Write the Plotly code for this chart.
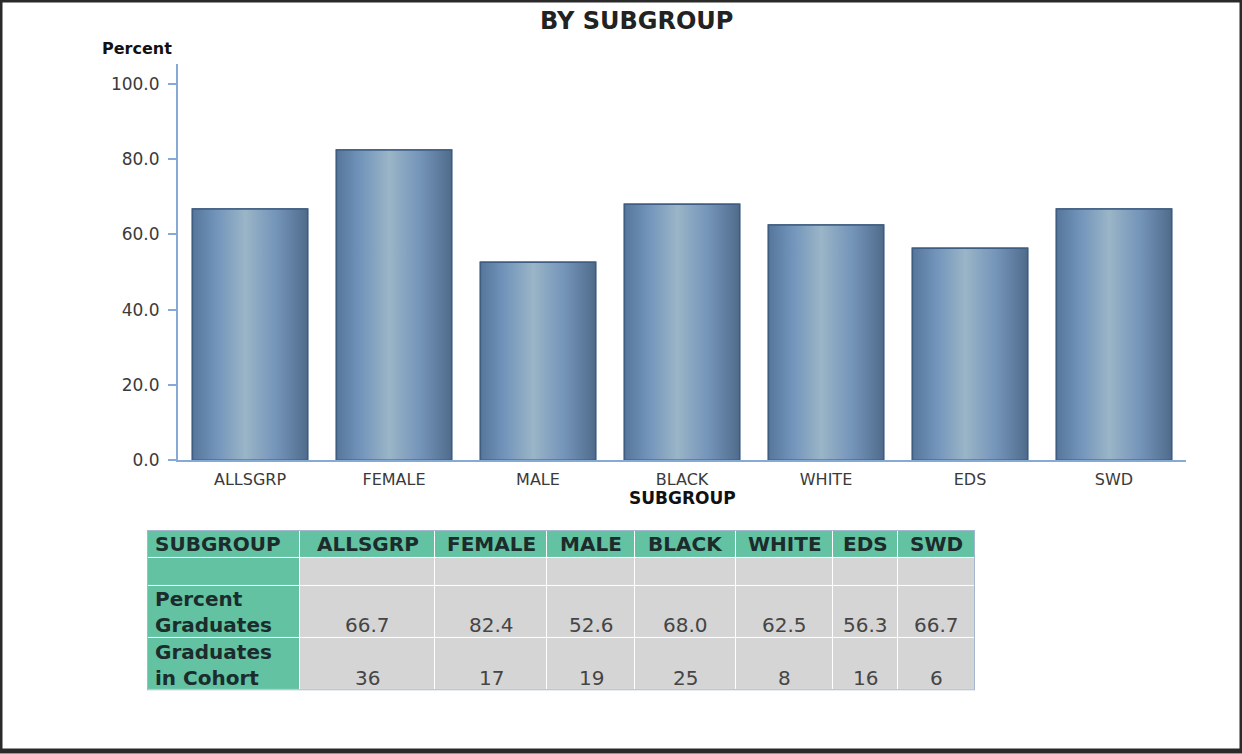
import plotly.graph_objects as go

# ---- data ----
categories = ["ALLSGRP", "FEMALE", "MALE", "BLACK", "WHITE", "EDS", "SWD"]
percent_graduates = [66.7, 82.4, 52.6, 68.0, 62.5, 56.3, 66.7]
graduates_in_cohort = [36, 17, 19, 25, 8, 16, 6]
table_header_label = "SUBGROUP"
row_labels = ["", "Percent<br>Graduates", "Graduates<br>in Cohort"]
y_ticks = [0, 20, 40, 60, 80, 100]

# ---- layout helpers (reference pixel -> paper fraction) ----
W, H = 1242, 761
REF_H = 754
def px(x):
    return x / W
def py(y):
    return 1 - y / REF_H

BAR_W = 0.8
grad = [[0.0, "#56769a"], [0.2, "#7193ba"], [0.46, "#9ab5c7"], [0.72, "#7595ba"], [1.0, "#506c8c"]]
edge = "#3f5d83"
axis_col = "#86a9d6"

fig = go.Figure()
xs = list(range(len(categories)))
fig.add_trace(go.Bar(x=xs, y=percent_graduates, width=BAR_W,
                     marker=dict(color="#7f9fbf", line=dict(color=edge, width=1.5)),
                     showlegend=False, hoverinfo="skip"))
for i, v in zip(xs, percent_graduates):
    x0, x1 = i - BAR_W / 2, i + BAR_W / 2
    fig.add_trace(go.Scatter(x=[x0, x0, x1, x1, x0], y=[0, v, v, 0, 0], mode="lines", fill="toself",
                             fillgradient=dict(type="horizontal", colorscale=grad),
                             line=dict(color=edge, width=1.5), showlegend=False,
                             hovertemplate=f"{categories[i]}: {v:.1f}<extra></extra>"))

# ---- table geometry (style) ----
col_widths = [153, 135, 112, 88, 101, 97, 65, 77]
row_heights = [28, 28, 52, 53]
col_edges = [0]
for w in col_widths:
    col_edges.append(col_edges[-1] + w)
row_edges = [0]
for h in row_heights:
    row_edges.append(row_edges[-1] + h)
TW, TH = col_edges[-1], row_edges[-1]

green = "#62c2a2"
gray = "#d5d5d5"
n_cols = len(col_widths)
n_rows = len(row_heights)
zfill = [[1 if (r == 0 or c == 0) else 0 for c in range(n_cols)] for r in range(n_rows)]

fig.add_trace(go.Heatmap(x=col_edges, y=row_edges, z=zfill, xaxis="x2", yaxis="y2",
                         colorscale=[[0, gray], [0.5, gray], [0.5, green], [1, green]],
                         zmin=0, zmax=1, showscale=False, xgap=1, ygap=1, hoverinfo="skip"))

fig.update_layout(
    width=W, height=H, autosize=False,
    margin=dict(l=0, r=0, t=0, b=0),
    paper_bgcolor="white", plot_bgcolor="white",
    font=dict(family="DejaVu Sans", color="#333333"),
    xaxis=dict(domain=[px(178), px(1186)], range=[-0.5, len(categories) - 0.5],
               tickvals=xs, ticktext=categories, showgrid=False, zeroline=False,
               showline=True, linecolor=axis_col, linewidth=2, ticks="", ticklabelstandoff=4,
               tickfont=dict(size=16, color="#3a3a3a"), fixedrange=True),
    yaxis=dict(domain=[py(462), py(64)], range=[0, 105.3], tickvals=y_ticks, tickformat=".1f",
               showgrid=False, zeroline=False, showline=True, linecolor=axis_col, linewidth=2,
               ticks="outside", ticklen=8, tickcolor=axis_col, tickwidth=2, ticklabelstandoff=5,
               tickfont=dict(size=17, color="#3a3a3a"), fixedrange=True),
    xaxis2=dict(domain=[px(147), px(975)], range=[0, TW], anchor="y2", visible=False, fixedrange=True),
    yaxis2=dict(domain=[py(693), py(532)], range=[TH, 0], anchor="x2", visible=False, fixedrange=True),
    showlegend=False,
)

# table outer border
fig.add_shape(type="rect", xref="x2", yref="y2", x0=0, x1=TW, y0=0, y1=TH,
              line=dict(color="#a4b7cf", width=2))

hdr_font = dict(family="DejaVu Sans", size=20, color="#1c2b2b")
val_font = dict(family="DejaVu Sans", size=20, color="#454545")
# header row
header_texts = [table_header_label] + categories
for c, t in enumerate(header_texts):
    yc = (row_edges[0] + row_edges[1]) / 2
    if c == 0:
        fig.add_annotation(text=f"<b>{t}</b>", xref="x2", yref="y2", x=col_edges[0] + 6, y=yc,
                           xanchor="left", yanchor="middle", showarrow=False, font=hdr_font)
    else:
        fig.add_annotation(text=f"<b>{t}</b>", xref="x2", yref="y2", x=(col_edges[c] + col_edges[c + 1]) / 2,
                           y=yc, xanchor="center", yanchor="middle", showarrow=False, font=hdr_font)
# row labels
for r, lab in enumerate(row_labels, start=1):
    if lab:
        fig.add_annotation(text=f"<b>{lab}</b>", xref="x2", yref="y2", x=col_edges[0] + 6,
                           y=row_edges[r + 1], yshift=-2, xanchor="left", yanchor="bottom", showarrow=False,
                           font=hdr_font, align="left")
# values (sit on the last line of each row)
for r, vals in ((2, [f"{p:.1f}" for p in percent_graduates]), (3, [str(g) for g in graduates_in_cohort])):
    for c, t in enumerate(vals, start=1):
        fig.add_annotation(text=t, xref="x2", yref="y2", x=(col_edges[c] + col_edges[c + 1]) / 2,
                           y=row_edges[r + 1], yshift=-2, xanchor="center", yanchor="bottom", showarrow=False,
                           font=val_font)

# titles
fig.add_annotation(text="<b>BY SUBGROUP</b>", xref="paper", yref="paper", x=px(637), y=py(21),
                   showarrow=False, font=dict(size=24, color="#222222"), xanchor="center", yanchor="middle")
fig.add_annotation(text="<b>Percent</b>", xref="paper", yref="paper", x=px(100), y=py(49),
                   showarrow=False, font=dict(size=16, color="#111111"), xanchor="left", yanchor="middle")
fig.add_annotation(text="<b>SUBGROUP</b>", xref="paper", yref="paper", x=px(682), y=py(500),
                   showarrow=False, font=dict(size=17, color="#111111"), xanchor="center", yanchor="middle")

# outer page frame
fig.add_shape(type="rect", xref="paper", yref="paper", x0=0, y0=0, x1=1, y1=1,
              line=dict(color="#2a2a2a", width=5), layer="above")

fig.write_html("out.html", config={"displayModeBar": False},
               post_script="document.body.style.margin='0';document.body.style.overflow='hidden';")
